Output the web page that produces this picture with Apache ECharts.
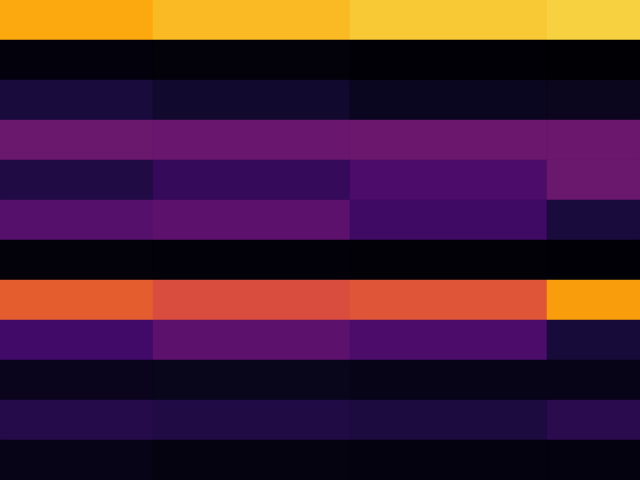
<!DOCTYPE html>
<html>
<head>
<meta charset="utf-8">
<script src="https://cdn.jsdelivr.net/npm/echarts@6/dist/echarts.min.js"></script>
<style>html,body{margin:0;padding:0;background:#fff}#c{width:640px;height:480px}</style>
</head>
<body>
<div id="c"></div>
<script>
// column boundaries (x coordinates of mesh edges)
var xEdges = [0, 1.53, 3.50, 5.47, 6.40];
// row boundaries
var yEdges = [0, 1, 2, 3, 4, 5, 6, 7, 8, 9, 10, 11, 12];
// cell values, one list per row (top to bottom), one entry per column
var row0  = [0.808, 0.842, 0.872, 0.888];
var row1  = [0.015, 0.012, 0.004, 0.002];
var row2  = [0.108, 0.080, 0.050, 0.048];
var row3  = [0.300, 0.295, 0.302, 0.302];
var row4  = [0.123, 0.173, 0.222, 0.300];
var row5  = [0.248, 0.265, 0.190, 0.109];
var row6  = [0.012, 0.010, 0.007, 0.003];
var row7  = [0.632, 0.585, 0.610, 0.782];
var row8  = [0.200, 0.265, 0.222, 0.100];
var row9  = [0.045, 0.043, 0.038, 0.035];
var row10 = [0.135, 0.125, 0.112, 0.145];
var row11 = [0.035, 0.025, 0.020, 0.020];
var rows = [row0,row1,row2,row3,row4,row5,row6,row7,row8,row9,row10,row11];

var inferno = ['#000004','#160b39','#420a68','#6a176e','#932667','#bc3754','#dd513a','#f37819','#fca50a','#f6d746','#fcffa4'];

var data = [];
rows.forEach(function(r, ri){
  r.forEach(function(v, ci){
    data.push([xEdges[ci], xEdges[ci+1], yEdges[ri], yEdges[ri+1], v]);
  });
});

var chart = echarts.init(document.getElementById('c'), null, {renderer:'canvas'});
chart.setOption({
  animation: false,
  grid: {left:0, right:0, top:0, bottom:0},
  xAxis: {type:'value', min:xEdges[0], max:xEdges[xEdges.length-1], show:false},
  yAxis: {type:'value', min:0, max:12, inverse:true, show:false},
  visualMap: {show:false, min:0, max:1, dimension:4, inRange:{color:inferno}},
  series: [{
    type:'custom',
    data: data,
    encode: {x:[0,1], y:[2,3]},
    renderItem: function(params, api){
      var p0 = api.coord([api.value(0), api.value(2)]);
      var p1 = api.coord([api.value(1), api.value(3)]);
      return {
        type:'rect',
        shape:{x:p0[0], y:Math.min(p0[1],p1[1]), width:p1[0]-p0[0], height:Math.abs(p1[1]-p0[1])},
        style:{fill:api.visual('color'), stroke:api.visual('color'), lineWidth:0.5}
      };
    }
  }]
});
</script>
</body>
</html>
